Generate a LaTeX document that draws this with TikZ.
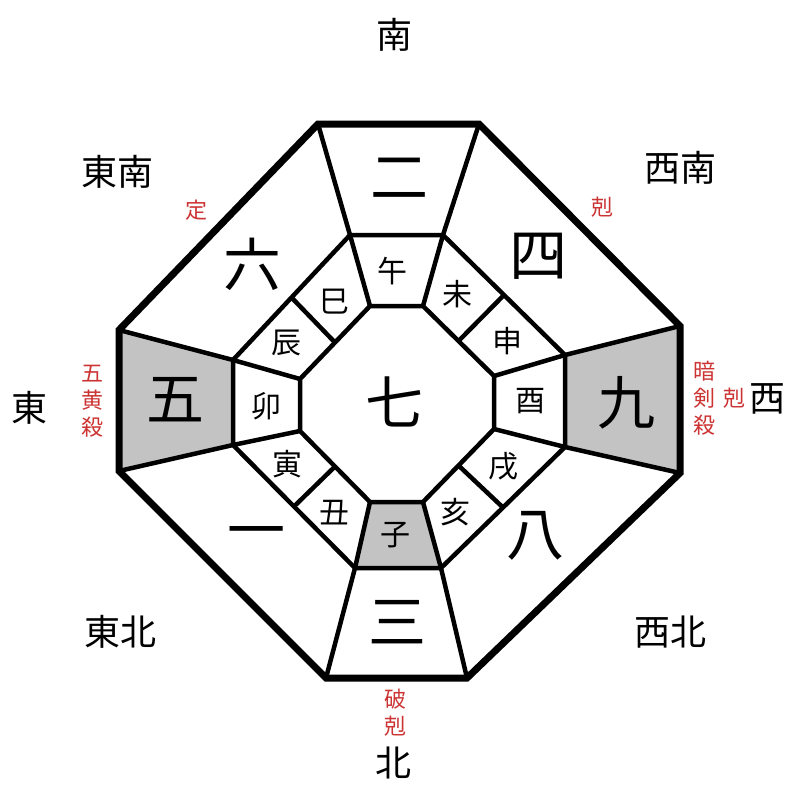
\documentclass[tikz,border=0pt]{standalone}
\usepackage{fontspec}
\usepackage{tikz}
\usetikzlibrary{calc}
\newfontfamily\cjk{Noto Sans CJK JP}
\definecolor{boxgray}{RGB}{195,195,195}
\definecolor{markred}{RGB}{204,51,51}

\begin{document}
\begin{tikzpicture}[x=1pt, y=-1pt,
    ring/.style={line width=4.5pt, line join=miter},
    rim/.style={line width=7pt, line join=miter},
    starnum/.style={font=\cjk\fontsize{58}{58}\selectfont, inner sep=0pt},
    zodiac/.style={font=\cjk\fontsize{30}{30}\selectfont, inner sep=0pt},
    compass/.style={font=\cjk\fontsize{36}{36}\selectfont, inner sep=0pt},
    omen/.style={font=\cjk\fontsize{22}{22}\selectfont, text=markred, inner sep=0pt}]
    \useasboundingbox (0,0) rectangle (800,800);

    % Octagon corners: outer, middle, inner
    \coordinate (oN1) at (318,124); \coordinate (oN2) at (479,124);
    \coordinate (oE1) at (680,326); \coordinate (oE2) at (680,473);
    \coordinate (oS1) at (467,678); \coordinate (oS2) at (326,678);
    \coordinate (oW1) at (119,471); \coordinate (oW2) at (119,330);
    \coordinate (mN1) at (350,235); \coordinate (mN2) at (443,235);
    \coordinate (mE1) at (565,355); \coordinate (mE2) at (565,447);
    \coordinate (mS1) at (441,568); \coordinate (mS2) at (355,568);
    \coordinate (mW1) at (233,445); \coordinate (mW2) at (233,360);
    \coordinate (iN1) at (370,306); \coordinate (iN2) at (423,306);
    \coordinate (iE1) at (494,376); \coordinate (iE2) at (494,429);
    \coordinate (iS1) at (423,502); \coordinate (iS2) at (370,502);
    \coordinate (iW1) at (300,431); \coordinate (iW2) at (300,379);

    % Gray sectors
    \fill[boxgray] (oW2) -- (mW2) -- (mW1) -- (oW1) -- cycle;
    \fill[boxgray] (mE1) -- (oE1) -- (oE2) -- (mE2) -- cycle;
    \fill[boxgray] (iS1) -- (iS2) -- (mS2) -- (mS1) -- cycle;

    % Rings and spokes
    \draw[ring] (mN1) -- (mN2) -- (mE1) -- (mE2) -- (mS1) -- (mS2) -- (mW1) -- (mW2) -- cycle;
    \draw[ring] (iN1) -- (iN2) -- (iE1) -- (iE2) -- (iS1) -- (iS2) -- (iW1) -- (iW2) -- cycle;
    \foreach \p in {N1,N2,E1,E2,S1,S2,W1,W2} {
        \draw[ring] (i\p) -- (m\p) -- (o\p);
    }
    \foreach \a/\b in {N2/E1, E2/S1, S2/W1, W2/N1} {
        \draw[ring] ($(i\a)!0.5!(i\b)$) -- ($(m\a)!0.5!(m\b)$);
    }
    \draw[rim] (oN1) -- (oN2) -- (oE1) -- (oE2) -- (oS1) -- (oS2) -- (oW1) -- (oW2) -- cycle;

    % Star numbers
    \node[starnum] (star7) at (394,402) {七};
    \node[starnum] (star2) at (399,178) {二};
    \node[starnum] (star4) at (538,256) {四};
    \node[starnum] (star9) at (626,403) {九};
    \node[starnum] (star8) at (535,536) {八};
    \node[starnum] (star3) at (397,622) {三};
    \node[starnum] (star1) at (256,539) {一};
    \node[starnum] (star5) at (175,400) {五};
    \node[starnum] (star6) at (252,264) {六};

    % Zodiac signs
    \node[zodiac] (zUma)   at (392,271) {午};
    \node[zodiac] (zHitsuji) at (457,294) {未};
    \node[zodiac] (zSaru)  at (507,341) {申};
    \node[zodiac] (zTori)  at (530,401) {酉};
    \node[zodiac] (zInu)   at (503,466) {戌};
    \node[zodiac] (zI)     at (455,512) {亥};
    \node[zodiac] (zNe)    at (395,535) {子};
    \node[zodiac] (zUshi)  at (334,513) {丑};
    \node[zodiac] (zTora)  at (287,464) {寅};
    \node[zodiac] (zU)     at (266,406) {卯};
    \node[zodiac] (zTatsu) at (286,343) {辰};
    \node[zodiac] (zMi)    at (334,302) {巳};

    % Directions
    \node[compass] (south) at (394,35) {南};
    \node[compass] (southeast) at (117,172) {東南};
    \node[compass] (southwest) at (680,168) {西南};
    \node[compass] (east) at (30,408) {東};
    \node[compass] (west) at (767,399) {西};
    \node[compass] (northeast) at (120,632) {東北};
    \node[compass] (northwest) at (670,632) {西北};
    \node[compass] (north) at (393,763) {北};

    % Omens
    \node[omen] (omenSE) at (196,210) {定};
    \node[omen] (omenSW) at (602,207) {剋};
    \node[omen, align=center] (omenE) at (92,401) {五\\[5pt]黄\\[5pt]殺};
    \node[omen, align=center] (omenW) at (704,398) {暗\\[5pt]剣\\[5pt]殺};
    \node[omen] (omenW2) at (734,398) {剋};
    \node[omen, align=center] (omenN) at (395,713) {破\\[5pt]剋};
\end{tikzpicture}
\end{document}
